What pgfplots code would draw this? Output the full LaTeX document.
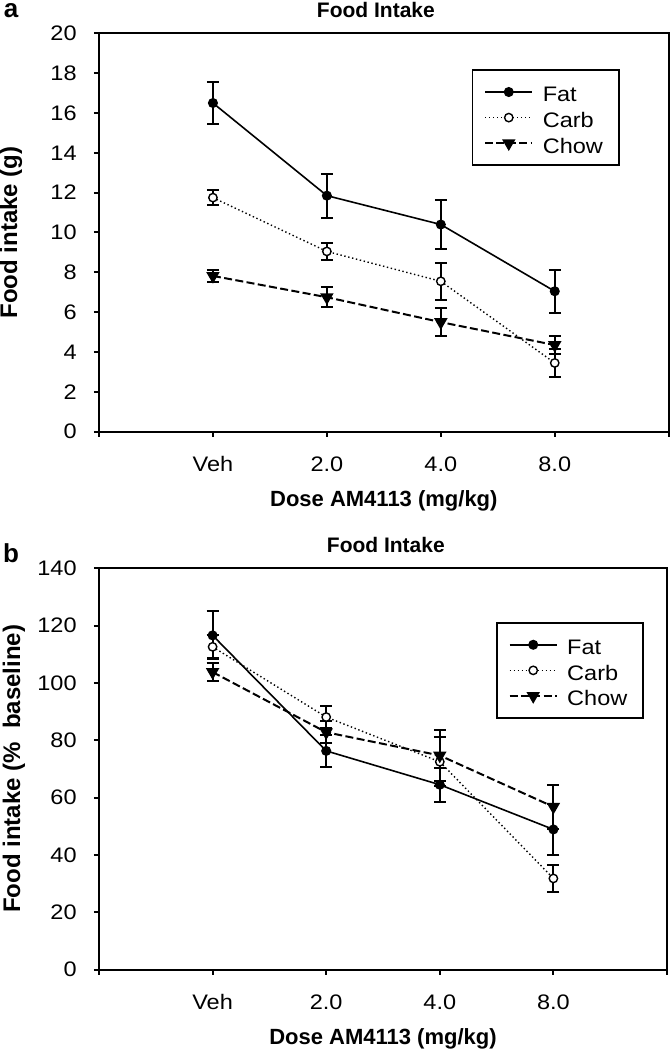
\documentclass[border=0pt]{standalone}
\usepackage{graphicx}
\usepackage{pgfplots}
\pgfplotsset{compat=1.18}
\usepackage{fontspec}
\setmainfont{Liberation Sans}

\newcommand{\hs}[1]{\scalebox{1.12}[1]{#1}}

\pgfplotstableread{
x y e
0 16.5 1.05
1 11.85 1.1
2 10.4 1.25
3 7.05 1.07
}\fata
\pgfplotstableread{
x y e
0 11.75 0.36
1 9.05 0.43
2 7.55 0.93
3 3.45 0.70
}\carba
\pgfplotstableread{
x y e
0 7.82 0.30
1 6.75 0.50
2 5.50 0.70
3 4.35 0.47
}\chowa
\pgfplotstableread{
x y e
0 116.6 8.4
1 76.3 5.7
2 64.5 5.9
3 48.9 8.9
}\fatb
\pgfplotstableread{
x y e
0 112.6 4.0
1 88.1 3.9
2 72.5 8.6
3 31.8 4.8
}\carbb
\pgfplotstableread{
x y e
0 103.8 3.0
1 82.8 3.8
2 74.7 9.0
3 56.8 7.7
}\chowb

\pgfplotsset{
  myaxis/.style={
    scale only axis,
    xmin=-1, xmax=4,
    xtick={-1,0,1,2,3,4},
    xticklabels={,\hs{Veh},\hs{2.0},\hs{4.0},\hs{8.0},},
    yticklabel={\hs{\pgfmathprintnumber{\tick}}},
    xtick pos=left, ytick pos=left,
    tick align=outside,
    major tick length=2.5pt,
    axis line style={line width=1pt},
    every tick/.style={black, line width=1pt},
    tick label style={font=\fontsize{10.5}{12}\selectfont},
    xticklabel style={anchor=center, inner sep=0pt, yshift=-13.7pt},
    yticklabel style={anchor=east, inner sep=0pt, xshift=-8.5pt},
    /pgf/number format/assume math mode=true,
    title style={font=\bfseries\fontsize{10.5}{12}\selectfont, anchor=center},
    xlabel style={font=\bfseries\fontsize{11}{13}\selectfont, at={(axis description cs:0.5,0)}, anchor=center},
    ylabel style={font=\bfseries\fontsize{12}{14}\selectfont, anchor=center},
    legend style={draw=black, line width=0.9pt, fill=white, anchor=north west,
      inner xsep=0pt, inner ysep=4.5pt, row sep=0pt, column sep=0pt,
      nodes={inner sep=0pt}, font=\fontsize{10.5}{12}\selectfont},
    legend cell align=left,
    legend image code/.code={
      \path (-5.8pt,0pt) (28.35pt,0pt);
      \draw[mark repeat=2,mark phase=2] plot coordinates {(0pt,0pt) (11.85pt,0pt) (23.7pt,0pt)};
    },
  },
  fatstyle/.style={black, line width=0.8pt, mark=*, mark size=2.1pt, mark options={solid, fill=black},
    error bars/.cd, y dir=both, y explicit, error bar style={line width=1pt, solid},
    error mark options={rotate=90, line width=1pt, mark size=3pt, solid}},
  carbstyle/.style={black, line width=0.7pt, dash pattern=on 0.7pt off 1.3pt, mark=*, mark size=2.1pt, mark options={solid, fill=white},
    error bars/.cd, y dir=both, y explicit, error bar style={line width=1pt, solid},
    error mark options={rotate=90, line width=1pt, mark size=3pt, solid}},
  chowstyle/.style={black, line width=1pt, dash pattern=on 4pt off 1.7pt, mark=triangle*, mark size=2.9pt, mark options={solid, fill=black, rotate=180},
    error bars/.cd, y dir=both, y explicit, error bar style={line width=1pt, solid},
    error mark options={rotate=90, line width=1pt, mark size=3pt, solid}},
}

\newcommand{\lentry}[1]{\makebox[38pt][l]{\hs{#1}\rule[-3.7pt]{0pt}{15pt}}}

\begin{document}
\begin{tikzpicture}
\path[use as bounding box] (0pt,0pt) rectangle (335.5pt,525pt);

\begin{axis}[myaxis,
  at={(49.5pt,309.15pt)}, anchor=south west,
  width=284.85pt, height=199.2pt,
  ymin=0, ymax=20, ytick={0,2,...,20},
  title={Food Intake},
  title style={at={(axis description cs:0.486,1)}, yshift=5.6pt},
  xlabel={Dose AM4113 (mg/kg)},
  xlabel style={yshift=-34.7pt},
  ylabel={Food intake (g)},
  ylabel style={at={(axis description cs:-0.1545,0.5)}},
  legend style={at={(rel axis cs:0.654,0.9096)}},
]
\addplot[fatstyle] table[x=x,y=y,y error=e] {\fata};
\addlegendentry{\lentry{Fat}}
\addplot[carbstyle] table[x=x,y=y,y error=e] {\carba};
\addlegendentry{\lentry{Carb}}
\addplot[chowstyle] table[x=x,y=y,y error=e] {\chowa};
\addlegendentry{\lentry{Chow}}
\end{axis}

\begin{axis}[myaxis,
  at={(49.5pt,40.2pt)}, anchor=south west,
  width=284pt, height=200.65pt,
  ymin=0, ymax=140, ytick={0,20,...,140},
  title={Food Intake},
  title style={at={(axis description cs:0.505,1)}, yshift=5.5pt},
  xlabel={Dose AM4113 (mg/kg)},
  xlabel style={yshift=-34.5pt},
  ylabel={Food intake (\%\ \ baseline)},
  ylabel style={at={(axis description cs:-0.150,0.5)}},
  legend style={at={(rel axis cs:0.699,0.866)}},
]
\addplot[fatstyle] table[x=x,y=y,y error=e] {\fatb};
\addlegendentry{\lentry{Fat}}
\addplot[carbstyle] table[x=x,y=y,y error=e] {\carbb};
\addlegendentry{\lentry{Carb}}
\addplot[chowstyle] table[x=x,y=y,y error=e] {\chowb};
\addlegendentry{\lentry{Chow}}
\end{axis}

\node[font=\bfseries\fontsize{13}{13}\selectfont] at (5.5pt,519.5pt) {a};
\node[font=\bfseries\fontsize{13}{13}\selectfont] at (5.5pt,248.25pt) {b};
\end{tikzpicture}
\end{document}
